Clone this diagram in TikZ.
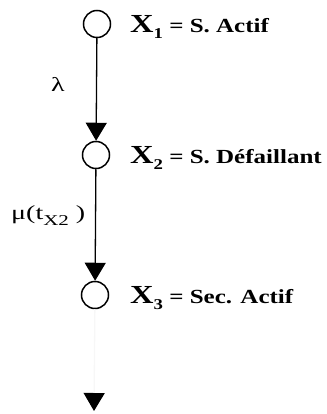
\documentclass[tikz,border=0pt]{standalone}
\usepackage{fontspec}
\setmainfont[FakeStretch=1.25]{Liberation Serif}
\newfontfamily\ratefont[FakeStretch=1.4]{Liberation Serif}
\usetikzlibrary{arrows.meta}
\tikzset{
  state/.style={circle,draw,line width=1.5pt,minimum size=27pt,inner sep=0pt},
  lbl/.style={anchor=base west,font=\bfseries\fontsize{20}{22}\selectfont,inner sep=0pt},
  rate/.style={font=\ratefont\fontsize{20}{22}\selectfont,inner sep=0pt},
  trans/.style={line width=1.3pt,-{Triangle[length=18pt,width=21pt]}}
}
\newcommand{\bigX}{{\fontsize{26}{27}\selectfont X}}
\newcommand{\sub}[1]{\raisebox{-6pt}{\fontsize{15}{16}\selectfont #1}}
\begin{document}
\begin{tikzpicture}[x=1pt,y=-1pt]
\useasboundingbox (0,0) rectangle (326,414);
\node[state] (c1) at (97,24) {};
\node[state] (c2) at (96,155) {};
\node[state] (c3) at (95,295) {};
\coordinate (end) at (94,411);
\node[lbl] (l1) at (130,33) {\bigX\sub{1} = S. Actif};
\node[lbl] (l2) at (130,163) {\bigX\sub{2} = S. Défaillant};
\node[lbl] (l3) at (130,303) {\bigX\sub{3} = Sec. Actif};
\draw[trans] (c1) -- (c2);
\draw[trans] (c2) -- (c3);
\draw[line width=1.3pt,draw=black!3,-{Triangle[length=18pt,width=21pt,black,fill=black]}] (c3) -- (end);
\node[rate] (lam) at (58,84) {λ};
\node[rate,anchor=base west] (mu) at (11,219) {μ(t\raisebox{-6pt}{\fontsize{15}{16}\selectfont X2} )};
\end{tikzpicture}
\end{document}
